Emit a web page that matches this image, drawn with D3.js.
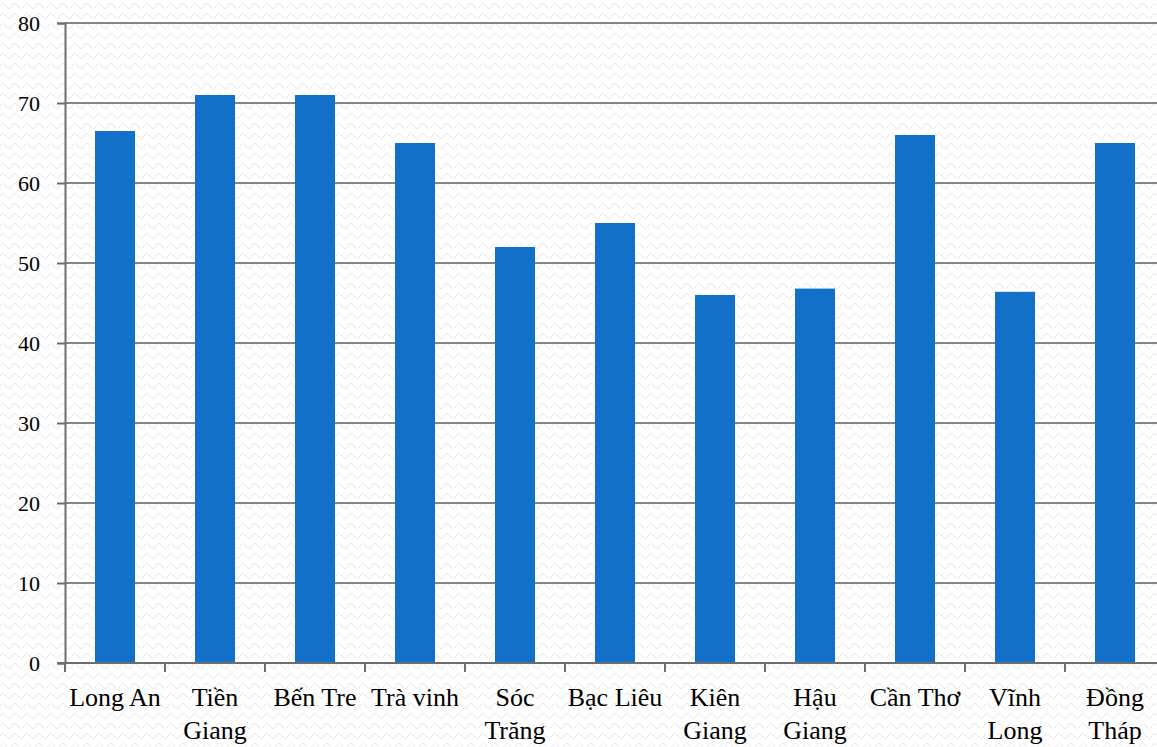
<!DOCTYPE html>
<html>
<head>
<meta charset="utf-8">
<script src="https://cdn.jsdelivr.net/npm/d3@7/dist/d3.min.js"></script>
<style>
  html, body { margin: 0; padding: 0; background: #fff; }
  svg { display: block; font-family: "Liberation Serif", "DejaVu Serif", serif; }
</style>
</head>
<body>
<svg id="chart" width="1157" height="747"></svg>
<script>
// provinces (Mekong delta) and their values
const categories = ["Long An", "Tiền Giang", "Bến Tre", "Trà vinh", "Sóc Trăng", "Bạc Liêu",
                    "Kiên Giang", "Hậu Giang", "Cần Thơ", "Vĩnh Long", "Đồng Tháp"];
const values = [66.5, 71, 71, 65, 52, 55, 46, 46.8, 66, 46.4, 65];
const yTicks = [0, 10, 20, 30, 40, 50, 60, 70, 80];

const svg = d3.select("#chart");
const W = 1157, H = 747;
const margin = {top: 23, left: 65, bottom: 84};
const plotH = H - margin.top - margin.bottom;

// wavy background texture
const defs = svg.append("defs");
const pat = defs.append("pattern")
    .attr("id", "wave").attr("patternUnits", "userSpaceOnUse")
    .attr("width", 12).attr("height", 10);
pat.append("rect").attr("width", 12).attr("height", 10).attr("fill", "#fff");
pat.append("path")
    .attr("d", "M0,6 Q3,1 6,6 T12,6")
    .attr("fill", "none").attr("stroke", "#ececec").attr("stroke-width", 1.2);
svg.append("rect").attr("width", W).attr("height", H).attr("fill", "url(#wave)");

const x = d3.scaleBand().domain(categories).range([margin.left, margin.left + 1100]).padding(0);
const y = d3.scaleLinear().domain([0, 80]).range([margin.top + plotH, margin.top]);

// gridlines
svg.append("g")
    .selectAll("line")
    .data(yTicks.filter(d => d > 0))
    .enter().append("line")
    .attr("x1", margin.left).attr("x2", W)
    .attr("y1", d => y(d)).attr("y2", d => y(d))
    .attr("stroke", "#858585").attr("stroke-width", 2);

// bars
const barW = 40;
svg.append("g")
    .selectAll("rect")
    .data(values)
    .enter().append("rect")
    .attr("x", (d, i) => x(categories[i]) + x.bandwidth() / 2 - barW / 2)
    .attr("width", barW)
    .attr("y", d => y(d))
    .attr("height", d => y(0) - y(d))
    .attr("fill", "#1270c8");

// y axis
const yAxis = svg.append("g")
    .attr("transform", "translate(" + margin.left + ",0)")
    .call(d3.axisLeft(y).tickValues(yTicks).tickSize(8).tickPadding(17));
yAxis.select(".domain").attr("stroke", "#6e6e6e").attr("stroke-width", 2);
yAxis.selectAll(".tick line").attr("stroke", "#6e6e6e").attr("stroke-width", 2);
yAxis.selectAll(".tick text")
    .attr("font-size", 22).attr("fill", "#000")
    .attr("font-family", "Liberation Serif, serif");

// x axis: ticks at band boundaries
const xg = svg.append("g");
xg.append("line")
    .attr("x1", margin.left - 8).attr("x2", W)
    .attr("y1", y(0)).attr("y2", y(0))
    .attr("stroke", "#6e6e6e").attr("stroke-width", 2);
xg.selectAll(".xt")
    .data(categories)
    .enter().append("line")
    .attr("class", "xt")
    .attr("x1", d => x(d)).attr("x2", d => x(d))
    .attr("y1", y(0)).attr("y2", y(0) + 9)
    .attr("stroke", "#6e6e6e").attr("stroke-width", 2);

// category labels, wrapped to two lines when wider than the band
const labels = xg.selectAll(".xl")
    .data(categories)
    .enter().append("text")
    .attr("class", "xl")
    .attr("text-anchor", "middle")
    .attr("font-size", 26)
    .attr("fill", "#000")
    .attr("x", d => x(d) + x.bandwidth() / 2)
    .attr("y", 706)
    .text(d => d);

labels.each(function(d) {
    const t = d3.select(this);
    if (this.getComputedTextLength() > x.bandwidth() - 2) {
        const words = d.split(" ");
        t.text(null);
        words.forEach((w, i) => {
            t.append("tspan")
                .attr("x", x(d) + x.bandwidth() / 2)
                .attr("dy", i === 0 ? 0 : 33)
                .text(w);
        });
    }
});
</script>
</body>
</html>
